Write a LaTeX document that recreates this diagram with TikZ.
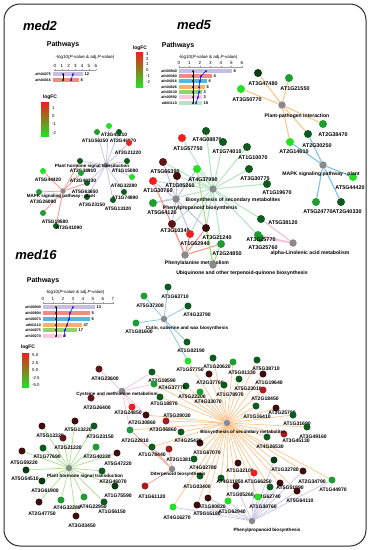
\documentclass[tikz,border=0pt]{standalone}
\usepackage{fontspec}
\setmainfont{Liberation Sans}
\pgfdeclarelayer{bg}
\pgfdeclarelayer{paper}
\pgfsetlayers{paper,bg,main}
\definecolor{lav}{HTML}{C5BEE6}
\definecolor{sal}{HTML}{F48A80}
\definecolor{blu}{HTML}{5AB4DB}
\definecolor{ora}{HTML}{FAB165}
\definecolor{grn}{HTML}{8FD46C}
\definecolor{pnk}{HTML}{F8C8E0}
\definecolor{mnt}{HTML}{B5E4C5}
\definecolor{lavE}{HTML}{C9C3EA}
\definecolor{salE}{HTML}{F59A90}
\definecolor{bluE}{HTML}{7EC3E3}
\definecolor{oraE}{HTML}{FCC68C}
\definecolor{grnE}{HTML}{AADF90}
\definecolor{pnkE}{HTML}{F6BFD9}
\definecolor{mntE}{HTML}{B9E6C8}
\definecolor{hubgray}{HTML}{8A8A8A}
\definecolor{GB}{HTML}{22E022}
\definecolor{GM}{HTML}{1E9E32}
\definecolor{GD}{HTML}{0F5A1E}
\definecolor{GK}{HTML}{0A3A14}
\definecolor{RR}{HTML}{F01E1E}
\definecolor{RM}{HTML}{A81C1C}
\definecolor{RD}{HTML}{5E1616}
\definecolor{RK}{HTML}{3E0E0E}
\definecolor{frame}{HTML}{2A2A2A}
\definecolor{axisgray}{HTML}{9A9A9A}
\tikzset{
  every node/.style={inner sep=0pt},
  gnA/.style={circle, minimum size=8pt},
  gnB/.style={circle, minimum size=7pt},
  gnC/.style={circle, minimum size=6pt},
  hubA/.style={circle, fill=hubgray, minimum size=7.5pt},
  hubB/.style={circle, fill=hubgray, minimum size=6.5pt},
  hubC/.style={circle, fill=hubgray, minimum size=5.5pt},
  labA/.style={font=\fontsize{5.4}{5.4}\selectfont\bfseries},
  labB/.style={font=\fontsize{5.1}{5.1}\selectfont\bfseries},
  labC/.style={font=\fontsize{4.9}{4.9}\selectfont\bfseries},
  hlA/.style={font=\fontsize{5.1}{5.1}\selectfont\bfseries},
  hlB/.style={font=\fontsize{4.6}{4.6}\selectfont\bfseries},
  hlC/.style={font=\fontsize{4.5}{4.5}\selectfont\bfseries},
  eA/.style={line width=1.1pt},
  eB/.style={line width=0.7pt},
  eC/.style={line width=0.8pt},
  ttl/.style={font=\fontsize{13}{13}\selectfont\bfseries\itshape},
  pw/.style={font=\fontsize{7}{7}\selectfont\bfseries},
  axl/.style={font=\fontsize{4.5}{4.5}\selectfont},
  tick/.style={font=\fontsize{4.5}{4.5}\selectfont},
  pathlab/.style={font=\fontsize{3.6}{3.6}\selectfont\bfseries},
  cnt/.style={font=\fontsize{4}{4}\selectfont\bfseries},
  lgt/.style={font=\fontsize{5}{5}\selectfont\bfseries},
  lgv/.style={font=\fontsize{4.3}{4.3}\selectfont, anchor=west},
}
\newcommand\gA[7]{\node[gnA,fill=#4] (#1) at (#2,#3) {}; \node[labA] (#1l) at (#6,#7) {#5};}
\newcommand\gB[7]{\node[gnB,fill=#4] (#1) at (#2,#3) {}; \node[labB] (#1l) at (#6,#7) {#5};}
\newcommand\gC[7]{\node[gnC,fill=#4] (#1) at (#2,#3) {}; \node[labC] (#1l) at (#6,#7) {#5};}
\begin{document}
\begin{tikzpicture}[x=1pt,y=-1pt]
\useasboundingbox (0,0) rectangle (370,550);
\begin{pgfonlayer}{paper}
\fill[white] (0,0) rectangle (370,550);
\end{pgfonlayer}
\draw[line width=1pt, draw=frame, rounded corners=16pt] (4,4) rectangle (366,546);

% titles
\node[ttl] (t2) at (40,26) {med2};
\node[ttl] (t5) at (194,25) {med5};
\node[ttl] (t16) at (36,255) {med16};

% ---------- med2 chart ----------
\node[pw] (pw2) at (63,45) {Pathways};
\node[axl] (ax2) at (85,57) {-log10(\textit{P}-value \& adj.\textit{P}-value)};
\draw[axisgray, line width=0.8pt] (54,70) -- (96,70);
\foreach \k in {0,...,6} {\node[tick] (t2-\k) at (55+6.8*\k,66) {\k}; \draw[axisgray] (55+6.8*\k,68.5) -- (55+6.8*\k,70);}
\foreach \i/\y/\e/\c/\n/\p in {1/74/83/lav/12/ath04075, 2/80/79/sal/8/ath04016} {
  \fill[\c] (53,\y-2.3) rectangle (\e,\y+2.3);
  \node[pathlab, anchor=east] (q2-\i) at (51,\y) {\p};
  \node[cnt, anchor=west] (n2-\i) at (\e+1.5,\y) {\n};
}
\draw[black, line width=0.5pt] (63,74) -- (63,80);
\fill (63,74) circle (1pt); \fill (63,80) circle (1pt);
\draw[blue, line width=0.5pt] (73,74) -- (71,80);
\fill[blue] (73,74) circle (1pt); \fill[blue] (71,80) circle (1pt);

% med5 legend
\node[lgt] (lg5) at (140,48) {logFC};
\shade[top color=RR, middle color=black, bottom color=GB] (136,52) rectangle (143,87);
\foreach \v/\y in {3/54,2/59,1/64,0/70,-1/76,-2/82} \node[lgv] (lv5\v) at (146,\y) {\v};

% med2 legend
\node[lgt] (lg2) at (50,97) {logFC};
\shade[top color=RR, middle color=black, bottom color=GB] (41,102) rectangle (49,136);
\foreach \v/\y in {1/108,0/116,-1/124,-2/133} \node[lgv] (lv2\v) at (52,\y) {\v};

% ---------- med5 chart ----------
\node[pw] (pw5) at (178,46) {Pathways};
\node[axl] (ax5) at (208,57) {-log10(\textit{P}-value \& adj.\textit{P}-value)};
\draw[axisgray, line width=0.8pt] (179,67) -- (243,67);
\foreach \k in {0,...,6} {\node[tick] (t5-\k) at (179+10.5*\k,63) {\k}; \draw[axisgray] (179+10.5*\k,65.5) -- (179+10.5*\k,67);}
\foreach \i/\y/\e/\c/\n/\p in {1/71/232/lav/8/ath00940, 2/76/212/sal/4/ath00360, 3/81/207/blu/6/ath04016, 4/87/205/ora/6/ath04626, 5/92/202/grn/3/ath00130, 6/97/202/pnk/3/ath00592, 7/103/202/mnt/18/ath01110} {
  \fill[\c] (179,\y-2.1) rectangle (\e,\y+2.1);
  \node[pathlab, anchor=east] (q5-\i) at (177,\y) {\p};
  \node[cnt, anchor=west] (n5-\i) at (\e+1.5,\y) {\n};
}
\draw[black, line width=0.5pt] (193,71) -- (193,103);
\foreach \y in {71,76,81,87,92,97,103} \fill (193,\y) circle (1pt);
\draw[blue, line width=0.5pt] (206,71) -- (201,76) -- (200,81) -- (199,87) -- (199,92) -- (198,97) -- (196,103);
\foreach \x/\y in {206/71,201/76,200/81,199/87,199/92,198/97,196/103} \fill[blue] (\x,\y) circle (1pt);

% ---------- med16 chart ----------
\node[pw] (pw16) at (43,281) {Pathways};
\node[axl] (ax16) at (75,292) {-log10(\textit{P}-value \& adj.\textit{P}-value)};
\draw[axisgray, line width=0.8pt] (43,303) -- (114,303);
\foreach \k in {0,...,7} {\node[tick] (t16-\k) at (43+10*\k,299) {\k}; \draw[axisgray] (43+10*\k,301.5) -- (43+10*\k,303);}
\foreach \i/\y/\e/\c/\n/\p in {1/307/95/lav/13/ath00940, 2/313/90/sal/5/ath00904, 3/319/90/blu/6/ath00073, 4/325/82/ora/47/ath01110, 5/330/77/grn/17/ath04075, 6/336/62/pnk/9/ath00270} {
  \fill[\c] (43,\y-2.2) rectangle (\e,\y+2.2);
  \node[pathlab, anchor=east] (q16-\i) at (41,\y) {\p};
  \node[cnt, anchor=west] (n16-\i) at (\e+1.5,\y) {\n};
}
\draw[black, line width=0.5pt] (56,307) -- (56,336);
\foreach \y in {307,313,319,325,330,336} \fill (56,\y) circle (1pt);
\draw[blue, line width=0.5pt] (73,307) -- (70,313) -- (69,319) -- (67,325) -- (65,330) -- (64,336);
\foreach \x/\y in {73/307,70/313,69/319,67/325,65/330,64/336} \fill[blue] (\x,\y) circle (1pt);

% med16 legend
\node[lgt] (lg16) at (28,347) {logFC};
\shade[top color=RR, middle color=black, bottom color=GB] (22,353) rectangle (29,387);
\foreach \v/\y [count=\j] in {5.0/355,2.5/363,0.0/370,-2.5/378,-5.0/385} \node[lgv] (lv16-\j) at (32,\y) {\v};

% ---------- med5 network ----------
\gA{a1}{258}{73}{GK}{AT3G47480}{263}{84}
\gA{a2}{289}{78}{GM}{AT1G21550}{295}{89}
\gA{a3}{241}{89}{GB}{AT3G50770}{247}{100}
\gA{a4}{323}{124}{GM}{AT2G38470}{333}{135}
\gA{a5}{308}{134}{GD}{AT2G30250}{317}{146}
\gA{a6}{290}{142}{GB}{AT2G14610}{294}{152}
\gA{a7}{353}{177}{GB}{AT5G44420}{350}{188}
\gA{a8}{316}{202}{GM}{AT5G24770}{318}{212}
\gA{a9}{341}{202}{GD}{AT2G40330}{347}{212}
\gA{a10}{206}{131}{GD}{AT4G08870}{207}{140}
\gA{a11}{182}{138}{RR}{AT1G57750}{188}{149}
\gA{a12}{223}{142}{GD}{AT1G74010}{227}{152}
\gA{a13}{247}{147}{GD}{AT1G10070}{253}{158}
\gA{a14}{249}{169}{GD}{AT3G30775}{255}{179}
\gA{a15}{267}{184}{GD}{AT1G19670}{277}{193}
\gA{a16}{197}{169}{GB}{AT4G37990}{203}{180}
\gA{a17}{163}{162}{RD}{AT5G66390}{165}{172}
\gA{a18}{177}{176}{RK}{AT1G05260}{180}{186}
\gA{a19}{153}{181}{RR}{AT1G30760}{158}{191}
\gA{a20}{153}{203}{GM}{AT5G64120}{162}{213}
\gA{a21}{261}{219}{GD}{AT5G38120}{283}{223}
\gA{a23}{260}{238}{GM}{AT3G25760}{263}{248}
\gA{a22}{258}{235}{GM}{AT3G25770}{261}{240}
\gA{a24}{172}{224}{RD}{AT3G10340}{175}{231}
\gA{a25}{190}{234}{RR}{AT1G62940}{195}{244}
\gA{a26}{206}{228}{RK}{AT3G21240}{217}{238}
\gA{a27}{221}{244}{GM}{AT2G24850}{227}{254}
\node[hubA] (A1) at (282,105) {}; \node[hlA] (A1l) at (297,116) {Plant-pathogen interaction};
\node[hubA] (A2) at (323,165) {}; \node[hlA] (A2l) at (321,174) {MAPK signaling pathway - plant};
\node[hubA] (A3) at (213,189) {}; \node[hlA] (A3l) at (233,200) {Biosynthesis of secondary metabolites};
\node[hubA] (A4) at (176,199) {}; \node[hlA] (A4l) at (200,208) {Phenylpropanoid biosynthesis};
\node[hubA] (A5) at (293,243) {}; \node[hlA] (A5l) at (310,253) {alpha-Linolenic acid metabolism};
\node[hubA] (A6) at (185,255) {}; \node[hlA] (A6l) at (197,263) {Phenylalanine metabolism};
\node[hubA] (A7) at (213,265) {}; \node[hlA] (A7l) at (242,273) {Ubiquinone and other terpenoid-quinone biosynthesis};

% ---------- med2 network ----------
\gC{c1}{109}{126}{GB}{AT2G45210}{114}{135}
\gC{c2}{97}{132}{GM}{AT1G56150}{95}{141}
\gC{c3}{119}{132}{GD}{AT2G46070}{123}{141}
\gC{c4}{129}{143}{RR}{AT2G21220}{128}{153}
\gC{c5}{127}{161}{GD}{AT1G15080}{125}{171}
\gC{c6}{80}{161}{GD}{AT2G38910}{83}{171}
\gC{c7}{81}{173}{GM}{AT2G40330}{83}{181}
\gC{c8}{132}{177}{GB}{AT4G32280}{124}{186}
\gC{c9}{87}{183}{GD}{AT5G63650}{85}{192}
\gC{c10}{124}{192}{GD}{AT1G74890}{125}{198}
\gC{c11}{87}{197}{GD}{AT3G23150}{92}{205}
\gC{c12}{113}{200}{GD}{AT5G13320}{118}{209}
\gC{c13}{43}{171}{GB}{AT5G44420}{48}{180}
\gC{c14}{39}{192}{GM}{AT3G26090}{43}{202}
\gC{c15}{43}{213}{GM}{AT5G19580}{55}{222}
\gC{c16}{56}{226}{GD}{AT2G41090}{69}{228}
\node[hubC] (C1) at (106,165) {}; \node[hlC] (C1l) at (92,166) {Plant hormone signal transduction};
\node[hubC] (C2) at (63,191) {}; \node[hlC] (C2l) at (61,196) {MAPK signaling pathway - plant};

% ---------- med16 network ----------
\gB{d1}{168}{287}{GD}{AT1G63710}{175}{297}
\gB{d2}{144}{296}{GM}{AT5G37300}{150}{306}
\gB{d3}{188}{306}{GD}{AT4G33790}{197}{315}
\gB{d4}{136}{323}{GM}{AT1G01600}{139}{332}
\gB{d5}{187}{342}{GD}{AT1G02190}{191}{351}
\gB{d6}{188}{361}{GB}{AT1G57750}{190}{370}
\node[hubB] (D1) at (164,319) {}; \node[hlB] (D1l) at (187,328) {Cutin, suberine and wax biosynthesis};

\gB{e1}{213}{358}{GD}{AT1G20620}{217}{367}
\gB{e2}{233}{362}{GM}{AT5G01330}{242}{373}
\gB{e3}{257}{360}{GD}{AT5G38710}{266}{369}
\gB{e4}{209}{374}{RK}{AT2G37760}{210}{383}
\gB{e5}{263}{374}{RK}{AT1G19640}{269}{383}
\gB{e6}{224}{385}{GD}{AT1G78970}{230}{395}
\gB{e7}{239}{379}{GD}{AT5G23010}{248}{389}
\gB{e8}{263}{390}{RM}{AT2G18450}{265}{399}
\gB{e9}{186}{386}{GD}{AT5G22300}{192}{397}
\gB{e10}{200}{392}{GM}{AT4G33070}{208}{402}
\gB{e11}{256}{406}{GD}{AT1G16410}{257}{417}
\gB{e12}{276}{408}{RK}{AT3G25780}{282}{413}
\gB{e13}{293}{415}{GD}{AT1G31690}{297}{424}
\gB{e14}{307}{427}{GD}{AT3G49160}{313}{437}
\gB{e15}{284}{434}{RM}{AT3G45130}{296}{441}
\gB{e16}{267}{437}{GD}{AT4G26530}{270}{447}
\gB{e17}{152}{372}{GD}{AT2G19590}{162}{381}
\gB{e18}{154}{384}{GM}{AT4G37770}{172}{388}
\gB{e19}{160}{397}{GD}{AT1G18870}{164}{404}
\gB{e20}{132}{407}{RR}{AT2G24850}{128}{413}
\gB{e21}{146}{415}{RK}{AT2G30860}{142}{423}
\gB{e22}{166}{421}{RM}{AT5G28030}{177}{416}
\gB{e23}{181}{432}{GD}{AT3G06860}{163}{430}
\gB{e24}{130}{430}{GM}{AT2G22810}{135}{441}
\gB{e25}{152}{447}{GD}{AT1G78440}{152}{455}
\gB{e26}{169}{449}{RM}{AT2G13810}{180}{460}
\gB{e27}{200}{443}{RK}{AT4G25420}{188}{441}
\node[labB] (e27m) at (207,453) {AT1G67070};
\gB{e28}{194}{459}{GD}{AT4G02780}{203}{468}
\gB{e29}{200}{476}{GD}{AT1G03400}{197}{487}
\gB{e32}{238}{463}{RK}{AT1G32100}{240}{471}
\gB{e33}{221}{478}{GD}{AT4G11850}{230}{482}
\gB{e34}{254}{473}{RR}{AT1G66250}{258}{482}
\gB{e35}{236}{486}{RK}{AT1G05260}{240}{495}
\gB{e36}{274}{460}{GK}{AT1G32780}{285}{470}
\gB{e37}{303}{471}{RK}{AT2G34790}{312}{482}
\gB{e38}{332}{480}{GM}{AT1G44970}{333}{490}
\gB{e39}{280}{483}{RK}{AT5G51890}{290}{488}
\gB{e40}{270}{487}{GD}{AT3G62740}{267}{497}
\gB{e41}{297}{491}{RK}{AT5G64110}{300}{501}
\gB{e42}{258}{497}{GB}{AT1G30760}{263}{507}
\gB{e43}{228}{501}{GB}{AT1G62940}{232}{512}
\gB{e44}{208}{498}{RK}{AT1G80820}{212}{507}
\gB{e45}{197}{505}{RK}{AT5G15180}{207}{514}
\gB{e46}{173}{507}{GB}{AT4G16270}{177}{518}
\node[hubB] (B1) at (227,423) {}; \node[hlB] (B1l) at (243,432) {Biosynthesis of secondary metabolites};
\node[hubB] (P1) at (252,521) {}; \node[hlB] (P1l) at (267,530) {Phenylpropanoid biosynthesis};

\gB{f1}{99}{369}{RD}{AT4G23600}{105}{379}
\gB{f2}{91}{398}{RD}{AT2G26400}{97}{408}
\node[hubB] (F1) at (122,391) {}; \node[hlB] (F1l) at (117,394) {Cysteine and methionine metabolism};
\node[hubB] (G1) at (172,469) {}; \node[hlB] (G1l) at (178,474) {Diterpenoid biosynthesis};

\gB{h1}{42}{426}{RK}{AT5G13320}{50}{436}
\gB{h2}{75}{421}{RK}{AT5G13220}{78}{430}
\gB{h3}{94}{426}{GD}{AT3G23150}{100}{437}
\gB{h4}{63}{438}{RD}{AT2G21220}{68}{448}
\gB{h5}{43}{448}{GD}{AT1G77690}{47}{457}
\gB{h6}{22}{451}{RK}{AT5G59220}{24}{463}
\gB{h7}{96}{447}{GM}{AT2G40330}{97}{457}
\gB{h8}{117}{453}{RK}{AT5G47220}{118}{464}
\gB{h9}{26}{470}{GK}{AT5G54510}{25}{479}
\gB{h10}{102}{471}{GD}{AT2G46070}{113}{482}
\gB{h11}{42}{481}{GK}{AT3G61900}{45}{491}
\gB{h12}{115}{486}{GK}{AT1G75590}{118}{496}
\gB{h13}{39}{502}{RK}{AT2G47750}{42}{514}
\gB{h14}{61}{500}{GM}{AT4G32280}{67}{508}
\gB{h15}{84}{497}{GM}{AT4G22950}{93}{507}
\gB{h16}{104}{502}{GD}{AT1G56150}{112}{512}
\gB{h17}{76}{516}{RK}{AT3G03450}{82}{526}
\gB{h18}{145}{486}{RM}{AT1G61120}{152}{497}
\node[hubB] (H1) at (69,468) {}; \node[hlB] (H1l) at (85,476) {Plant hormone signal transduction};

% ---------- edges ----------
\begin{pgfonlayer}{bg}
\foreach \t in {a1,a2,a3,a4,a5,a6} \draw[eA,oraE] (A1) -- (\t);
\foreach \t in {a5,a6,a7,a8,a9} \draw[eA,bluE] (A2) -- (\t);
\foreach \t in {a10,a11,a12,a13,a14,a15,a16,a17,a18,a19,a20,a21,a22,a24,a25,a26,a27} \draw[eA,mntE] (A3) -- (\t);
\foreach \t in {a16,a17,a18,a19,a20,a24,a25,a26} \draw[eA,lavE] (A4) -- (\t);
\foreach \t in {a21,a22,a23} \draw[eA,pnkE] (A5) -- (\t);
\foreach \t in {a19,a24,a25,a26,a27} \draw[eA,salE] (A6) -- (\t);
\foreach \t in {a16,a26,a27} \draw[eA,grnE] (A7) -- (\t);

\foreach \t in {c1,c2,c3,c4,c5,c6,c7,c8,c9,c10,c11,c12} \draw[eC,lavE] (C1) -- (\t);
\foreach \t in {c6,c7,c9,c13,c14,c15,c16} \draw[eC,salE] (C2) -- (\t);

\foreach \t in {d1,d2,d3,d4,d5,d6} \draw[eB,bluE] (D1) -- (\t);
\foreach \t in {d6,e1,e2,e3,e4,e5,e6,e7,e8,e9,e10,e11,e12,e13,e14,e15,e16,e17,e18,e19,e21,e22,e23,e24,e25,e27,e28,e29,e32,e33,e34,e35,e36,e37,e38,e39,e40,e41,e42,e43,e44,e45,e46} \draw[eB,oraE] (B1) -- (\t);
\foreach \t in {e34,e35,e36,e37,e38,e39,e40,e41,e42,e43,e44,e45,e46} \draw[eB,lavE] (P1) -- (\t);
\foreach \t in {f1,f2,e17,e18,e20,e21,e24} \draw[eB,pnkE] (F1) -- (\t);
\foreach \t in {e24,e25,e26,h18} \draw[eB,salE] (G1) -- (\t);
\foreach \t in {h1,h2,h3,h4,h5,h6,h7,h8,h9,h10,h11,h12,h13,h14,h15,h16,h17} \draw[eB,grnE] (H1) -- (\t);
\end{pgfonlayer}
\end{tikzpicture}
\end{document}
